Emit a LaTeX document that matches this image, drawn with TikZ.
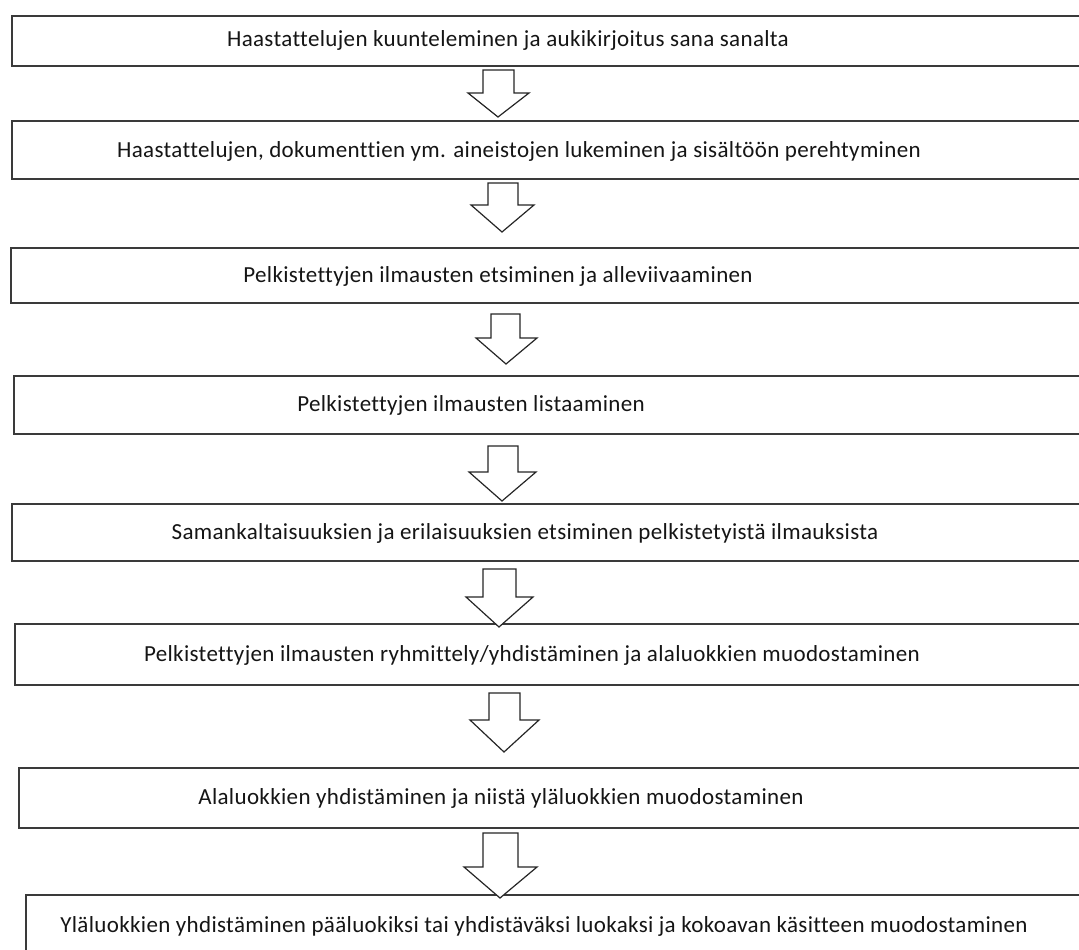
\documentclass[tikz,border=0pt]{standalone}
\usepackage{fontspec}
\setmainfont{Carlito}[Ligatures=NoCommon, LetterSpace=1.5]
\definecolor{boxgray}{HTML}{3A3A3A}
\definecolor{txtgray}{HTML}{151515}
\tikzset{
  stepbox/.style={draw=boxgray, line width=1.8pt, fill=white, anchor=north west, inner sep=0pt, minimum width=1100pt},
  steptxt/.style={anchor=base, inner sep=0pt, text=txtgray, font=\fontsize{23}{26}\selectfont},
  blockarrow/.style={draw=black!85, line width=1.2pt, fill=white, line join=miter}
}
\newcommand{\blockarr}[8]{% shaftL shaftR headL headR top headbase tip tipx
  \draw[blockarrow] (#1,#5) -- (#2,#5) -- (#2,#6) -- (#4,#6) -- (#8,#7) -- (#3,#6) -- (#1,#6) -- cycle;}
\begin{document}
\begin{tikzpicture}[x=1pt,y=-1pt]
\useasboundingbox (0,0) rectangle (1079,950);
\clip (0,0) rectangle (1079,950);
\fill[white] (0,0) rectangle (1079,950);
% boxes
\node[stepbox, minimum height=50pt] (b1) at (11,15) {};
\node[stepbox, minimum height=58pt] (b2) at (11,120) {};
\node[stepbox, minimum height=55pt] (b3) at (10,247) {};
\node[stepbox, minimum height=58pt] (b4) at (13,375) {};
\node[stepbox, minimum height=57pt] (b5) at (11,503) {};
\node[stepbox, minimum height=61pt] (b6) at (14,623) {};
\node[stepbox, minimum height=60pt] (b7) at (18,767) {};
\node[stepbox, minimum height=80pt] (b8) at (25,894) {};
% arrows
\blockarr{483}{514}{468}{529}{70}{93}{117}{498}
\blockarr{488}{518}{471}{534}{183}{205}{232}{502}
\blockarr{491}{520}{476}{537}{314}{338}{364}{506}
\blockarr{488}{518}{469}{536}{446}{472}{501}{502}
\blockarr{483}{516}{466}{533}{569}{597}{627}{499}
\blockarr{489}{520}{470}{539}{693}{720}{752}{504}
\blockarr{483}{518}{464}{537}{833}{867}{898}{500}
% texts
\node[steptxt] (t1) at (508,47) {Haastattelujen kuunteleminen ja aukikirjoitus sana sanalta};
\node[steptxt] (t2) at (519,157) {Haastattelujen, dokumenttien ym. aineistojen lukeminen ja sisältöön perehtyminen};
\node[steptxt] (t3) at (498,282) {Pelkistettyjen ilmausten etsiminen ja alleviivaaminen};
\node[steptxt] (t4) at (471,411) {Pelkistettyjen ilmausten listaaminen};
\node[steptxt] (t5) at (525,539) {Samankaltaisuuksien ja erilaisuuksien etsiminen pelkistetyistä ilmauksista};
\node[steptxt] (t6) at (532,661) {Pelkistettyjen ilmausten ryhmittely/yhdistäminen ja alaluokkien muodostaminen};
\node[steptxt] (t7) at (501,804) {Alaluokkien yhdistäminen ja niistä yläluokkien muodostaminen};
\node[steptxt] (t8) at (544,932) {Yläluokkien yhdistäminen pääluokiksi tai yhdistäväksi luokaksi ja kokoavan käsitteen muodostaminen};
\end{tikzpicture}
\end{document}
